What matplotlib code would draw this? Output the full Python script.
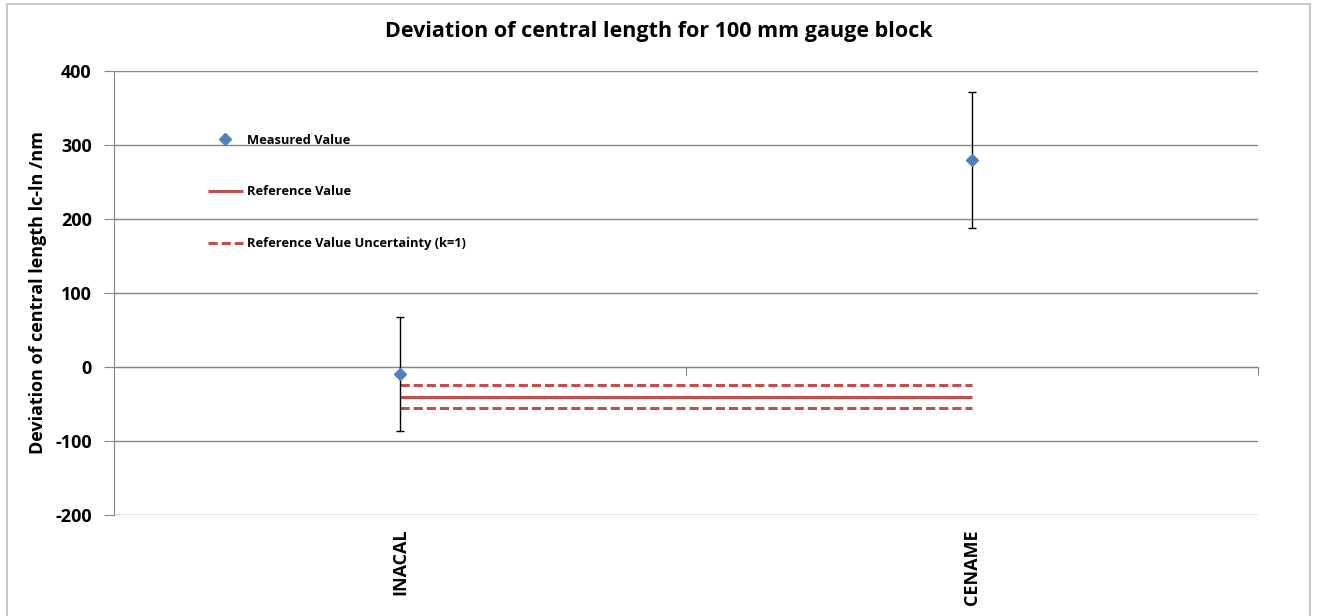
import matplotlib.pyplot as plt
from matplotlib.patches import Rectangle

labs = ['INACAL', 'CENAME']
measured = [-10, 280]
uncert = [77, 92]
ref_value = -40
ref_unc = 15

plt.rcParams['font.family'] = ['Open Sans', 'DejaVu Sans']
plt.rcParams['font.weight'] = 'bold'
plt.rcParams['axes.unicode_minus'] = False

fig = plt.figure(figsize=(13.18, 6.16), dpi=100)
ax = fig.add_axes([114 / 1318, 1 - 515 / 616, 1144 / 1318, 444 / 616])

x = list(range(len(labs)))
grey = '#868686'

ax.errorbar(x, measured, yerr=uncert, fmt='none', ecolor='black', elinewidth=1,
            capsize=3, capthick=1, zorder=3)
ax.plot(x, measured, linestyle='none', marker='D', markersize=6.5, color='#4F81BD',
        label='Measured Value', zorder=4)
ax.hlines(ref_value, x[0], x[-1], color='#C0504D', linewidth=2.2, label='Reference Value', zorder=2)
ax.hlines([ref_value + ref_unc, ref_value - ref_unc], x[0], x[-1], color='#C0504D',
          linewidth=2.2, linestyles=(0, (3, 1.3)), label='Reference Value Uncertainty (k=1)', zorder=2)

ax.set_xlim(-0.5, len(labs) - 0.5)
ax.set_ylim(-200, 400)
ax.set_yticks(range(-200, 401, 100))
ax.yaxis.grid(True, color=grey, linewidth=1)
ax.set_axisbelow(True)
for s in ['top', 'right', 'bottom']:
    ax.spines[s].set_visible(False)
ax.spines['left'].set_color(grey)
ax.tick_params(axis='y', length=7, color=grey, labelsize=13, pad=9)
for t in ax.get_yticklabels():
    t.set_fontweight('bold')
ax.set_xticks(x)
ax.set_xticklabels(labs, rotation=90, fontsize=13, fontweight='bold')
ax.tick_params(axis='x', length=0, pad=10)

# category boundary ticks on the zero line
sec = ax.secondary_xaxis(200 / 600)
sec.set_xticks([0.5, 1.5])
sec.set_xticklabels([])
sec.tick_params(length=6, color=grey, direction='out')
sec.spines['bottom'].set_color(grey)

ax.set_ylabel('Deviation of central length lc-ln /nm', fontsize=13, fontweight='bold', labelpad=6)
fig.text(0.5, 1 - 31 / 616, 'Deviation of central length for 100 mm gauge block',
         ha='center', va='center', fontsize=15.5, fontweight='bold')

leg = ax.legend(loc='upper left', bbox_to_anchor=(82 / 1144, 1 - 51 / 444), frameon=False,
                labelspacing=3.0, handlelength=2.7, handletextpad=0.35,
                prop={'weight': 'bold', 'size': 9.3})

fig.patches.append(Rectangle((7 / 1318, -0.1), 1303 / 1318, 1.1 - 4 / 616, transform=fig.transFigure,
                             fill=False, edgecolor='#BFBFBF', linewidth=1.2))

fig.savefig('out.png', dpi=100)
